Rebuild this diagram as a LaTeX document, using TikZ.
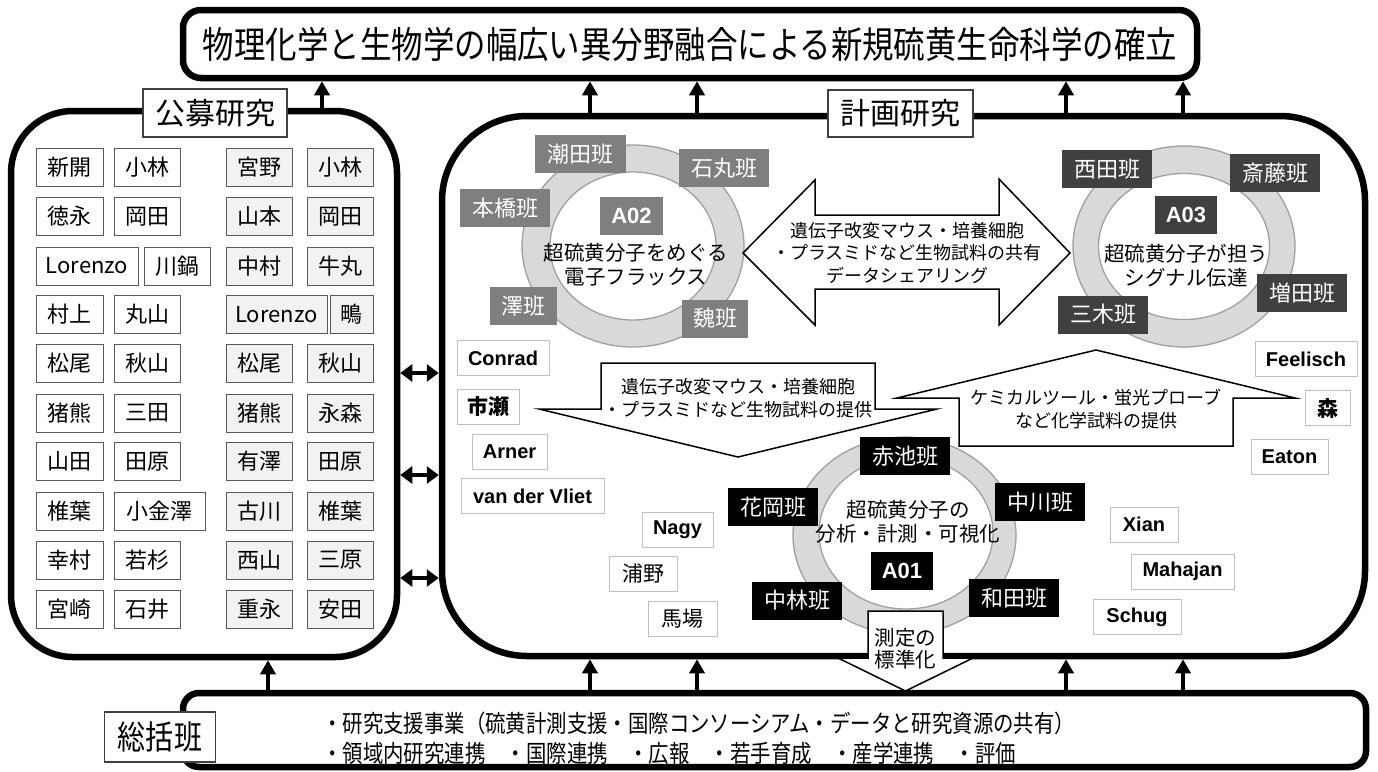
\documentclass[tikz,border=0pt]{standalone}
\usepackage{fontspec}
\setmainfont{Noto Sans CJK JP}
\newfontfamily\cond{Noto Sans CJK JP}[FakeStretch=0.85]
\newfontfamily\arialfont{Liberation Sans}
\usetikzlibrary{arrows.meta}
\definecolor{gA02}{HTML}{7F7F7F}
\definecolor{gA03}{HTML}{404040}
\definecolor{gA01}{HTML}{000000}
\definecolor{ringfill}{HTML}{D9D9D9}
\definecolor{ringline}{HTML}{A0A0A0}
\definecolor{cellgray}{HTML}{F2F2F2}
\tikzset{
  panel/.style={draw, line width=6.5pt, fill=white, inner sep=0pt},
  lbl/.style={draw=black!75, line width=1.2pt, fill=white, inner sep=0pt, font=\fontsize{30}{36}\selectfont},
  nm/.style={draw=black!65, line width=1pt, fill=white, minimum height=38pt, inner sep=0pt, font=\fontsize{22}{26}\selectfont},
  nmg/.style={nm, fill=cellgray},
  ext/.style={draw=black!25, line width=1pt, fill=white, minimum height=35pt, inner sep=0pt, font=\arialfont\bfseries\fontsize{20}{24}\selectfont},
  extj/.style={ext, font=\fontsize{21}{24}\selectfont},
  extjb/.style={ext, font=\bfseries\fontsize{21}{24}\selectfont},
  grp/.style={fill=#1, text=white, minimum width=90pt, minimum height=38pt, inner sep=0pt, font=\fontsize{22}{26}\selectfont},
  glabel/.style={grp=#1, font=\arialfont\bfseries\fontsize{22}{26}\selectfont, minimum width=62pt},
  uarr/.style={line width=4pt, -{Triangle[width=15pt,length=14pt]}},
  darr/.style={line width=4pt, {Triangle[width=17pt,length=12pt]}-{Triangle[width=17pt,length=12pt]}},
  blockarrow/.style={draw, fill=white, line width=1.5pt, line join=miter},
  atext/.style={align=center, inner sep=0pt, font=\fontsize{18}{22.5}\selectfont},
  rtext/.style={align=center, inner sep=0pt, font=\fontsize{20.5}{24}\selectfont},
  ring/.style={fill=ringfill, draw=ringline, line width=1.3pt},
  hole/.style={fill=white, draw=ringline, line width=1.3pt},
  summ/.style={anchor=west, inner sep=0pt, font=\cond\fontsize{24}{27}\selectfont}
}
\begin{document}
\begin{tikzpicture}[x=1pt, y=-1pt]
\useasboundingbox (0,0) rectangle (1378,771);

% main frames
\node[panel, rounded corners=18pt, minimum width=1014pt, minimum height=68pt,
      font=\cond\fontsize{37}{42}\selectfont] (title) at (690,44)
      {物理化学と生物学の幅広い異分野融合による新規硫黄生命科学の確立};
\node[panel, rounded corners=62pt, minimum width=386pt, minimum height=546pt] (koubo) at (204,384) {};
\node[panel, rounded corners=85pt, minimum width=923pt, minimum height=540pt] (keikaku) at (903.5,386) {};
\node[panel, rounded corners=16pt, minimum width=1183pt, minimum height=74pt] (sokatsu) at (774.5,730) {};

% arrow positions
\coordinate (t1) at (322,0);
\coordinate (t2) at (590,0);
\coordinate (t3) at (697,0);
\coordinate (t4) at (1066,0);
\coordinate (t5) at (1183,0);
\coordinate (b1) at (268,0);
\coordinate (d1) at (0,373);
\coordinate (d2) at (0,475);
\coordinate (d3) at (0,578);

\draw[uarr] (koubo.north -| t1) -- (title.south -| t1);
\foreach \c in {t2,t3,t4,t5}{
  \draw[uarr] (keikaku.north -| \c) -- (title.south -| \c);
  \draw[uarr] (sokatsu.north -| \c) -- (keikaku.south -| \c);
}
\draw[uarr] (sokatsu.north -| b1) -- (koubo.south -| b1);
\foreach \c in {d1,d2,d3}{
  \draw[darr] (koubo.east |- \c) -- (keikaku.west |- \c);
}

% labels
\node[lbl, minimum width=144pt, minimum height=48pt] (kouboL) at (215,113) {公募研究};
\node[lbl, minimum width=145pt, minimum height=47pt] (keikakuL) at (900.5,113.5) {計画研究};
\node[lbl, font=\cond\fontsize{33}{38}\selectfont, minimum width=111pt, minimum height=50pt] (sokatsuL) at (160,737) {総括班};

% summary text
\node[summ] (s1) at (322,723)
  {・研究支援事業（硫黄計測支援・国際コンソーシアム・データと研究資源の共有）};
\node[summ] (s2) at (322,753)
  {・領域内研究連携　・国際連携　・広報　・若手育成　・産学連携　・評価};

% public-call names
\node[nm, minimum width=67pt] (n1a) at (69.5,167.5) {新開};
\node[nm, minimum width=66pt] (n1b) at (147,167.5) {小林};
\node[nmg, minimum width=66pt] (n1c) at (259,167.5) {宮野};
\node[nmg, minimum width=66pt] (n1d) at (340,167.5) {小林};
\node[nm, minimum width=67pt] (n2a) at (69.5,216.5) {徳永};
\node[nm, minimum width=66pt] (n2b) at (147,216.5) {岡田};
\node[nmg, minimum width=66pt] (n2c) at (259,216.5) {山本};
\node[nmg, minimum width=66pt] (n2d) at (340,216.5) {岡田};
\node[nm, minimum width=102pt] (n3a) at (87,266) {Lorenzo};
\node[nm, minimum width=66pt] (n3b) at (177,266) {川鍋};
\node[nmg, minimum width=66pt] (n3c) at (259,266) {中村};
\node[nmg, minimum width=66pt] (n3d) at (340,266) {牛丸};
\node[nm, minimum width=67pt] (n4a) at (69.5,314.5) {村上};
\node[nm, minimum width=66pt] (n4b) at (147,314.5) {丸山};
\node[nmg, minimum width=101pt] (n4c) at (276.5,314.5) {Lorenzo};
\node[nmg, minimum width=43pt] (n4d) at (351.5,314.5) {鴫};
\node[nm, minimum width=67pt] (n5a) at (69.5,363.5) {松尾};
\node[nm, minimum width=66pt] (n5b) at (147,363.5) {秋山};
\node[nmg, minimum width=66pt] (n5c) at (259,363.5) {松尾};
\node[nmg, minimum width=66pt] (n5d) at (340,363.5) {秋山};
\node[nm, minimum width=67pt] (n6a) at (69.5,413) {猪熊};
\node[nm, minimum width=66pt] (n6b) at (147,413) {三田};
\node[nmg, minimum width=66pt] (n6c) at (259,413) {猪熊};
\node[nmg, minimum width=66pt] (n6d) at (340,413) {永森};
\node[nm, minimum width=67pt] (n7a) at (69.5,461.5) {山田};
\node[nm, minimum width=66pt] (n7b) at (147,461.5) {田原};
\node[nmg, minimum width=66pt] (n7c) at (259,461.5) {有澤};
\node[nmg, minimum width=66pt] (n7d) at (340,461.5) {田原};
\node[nm, minimum width=67pt] (n8a) at (69.5,511) {椎葉};
\node[nm, minimum width=91pt] (n8b) at (159.5,511) {小金澤};
\node[nmg, minimum width=66pt] (n8c) at (259,511) {古川};
\node[nmg, minimum width=66pt] (n8d) at (340,511) {椎葉};
\node[nm, minimum width=67pt] (n9a) at (69.5,560) {幸村};
\node[nm, minimum width=66pt] (n9b) at (147,560) {若杉};
\node[nmg, minimum width=66pt] (n9c) at (259,560) {西山};
\node[nmg, minimum width=66pt] (n9d) at (340,560) {三原};
\node[nm, minimum width=67pt] (n10a) at (69.5,609) {宮崎};
\node[nm, minimum width=66pt] (n10b) at (147,609) {石井};
\node[nmg, minimum width=66pt] (n10c) at (259,609) {重永};
\node[nmg, minimum width=66pt] (n10d) at (340,609) {安田};

% rings
\path[ring] (633,246) ellipse [x radius=111pt, y radius=101pt];
\path[hole] (633,246) ellipse [x radius=83pt, y radius=74pt];
\path[ring] (1184,246.5) ellipse [x radius=111pt, y radius=100.5pt];
\path[hole] (1184,246.5) ellipse [x radius=85.5pt, y radius=73pt];
\path[ring] (904.5,535.5) ellipse [x radius=111.5pt, y radius=98.5pt];
\path[hole] (906,533) ellipse [x radius=87pt, y radius=76pt];

\node[rtext] (a02t) at (636,265) {超硫黄分子をめぐる\\電子フラックス};
\node[rtext] (a03t) at (1186,265.5) {超硫黄分子が担う\\シグナル伝達};
\node[rtext] (a01t) at (908,522) {超硫黄分子の\\分析・計測・可視化};

% A02 groups
\node[glabel=gA02, minimum width=63pt] (a02) at (631.5,216) {A02};
\node[grp=gA02, minimum width=91pt] (ushioda) at (580.5,154) {潮田班};
\node[grp=gA02] (ishimaru) at (724,168) {石丸班};
\node[grp=gA02] (motohashi) at (505,208) {本橋班};
\node[grp=gA02, minimum width=67pt] (sawa) at (523.5,306) {澤班};
\node[grp=gA02, minimum width=66pt] (gi) at (715,318.5) {魏班};

% A03 groups
\node[glabel=gA03] (a03) at (1186,214.5) {A03};
\node[grp=gA03] (nishida) at (1107,169) {西田班};
\node[grp=gA03] (saito) at (1275,173) {斎藤班};
\node[grp=gA03] (masuda) at (1302,293) {増田班};
\node[grp=gA03] (miki) at (1103,314.5) {三木班};

% A01 groups
\node[glabel=gA01] (a01) at (902,570.5) {A01};
\node[grp=gA01] (akaike) at (905,456) {赤池班};
\node[grp=gA01] (hanaoka) at (773,507) {花岡班};
\node[grp=gA01] (nakagawa) at (1040,502) {中川班};
\node[grp=gA01] (nakabayashi) at (797,600.5) {中林班};
\node[grp=gA01] (wada) at (1014,598) {和田班};

% block arrows
\draw[blockarrow] (743,253) -- (815,180) -- (815,215) -- (999,215) -- (999,179) -- (1070,253)
  -- (999,325) -- (999,289) -- (815,289) -- (815,325) -- cycle;
\node[atext] (share) at (907,253) {遺伝子改変マウス・培養細胞\\・プラスミドなど生物試料の共有\\データシェアリング};

\draw[blockarrow] (601,363) -- (875,363) -- (875,409) -- (937,409) -- (738,457) -- (539,409) -- (601,409) -- cycle;
\node[atext] (provbio) at (738,398) {遺伝子改変マウス・培養細胞\\・プラスミドなど生物試料の提供};

\draw[blockarrow] (959,446) -- (1233,446) -- (1233,398) -- (1295,398) -- (1096,350) -- (897,398) -- (959,398) -- cycle;
\node[atext] (provchem) at (1096,409) {ケミカルツール・蛍光プローブ\\など化学試料の提供};

\draw[blockarrow] (868,611) -- (943,611) -- (943,658) -- (973,658) -- (905.5,691) -- (838,658) -- (868,658) -- cycle;
\node[atext, font=\fontsize{20.5}{22}\selectfont] (std) at (905.5,649) {測定の\\標準化};

% external collaborators
\node[ext, minimum width=92pt] (conrad) at (503,358) {Conrad};
\node[extjb, minimum width=62pt] (ichise) at (488,406.5) {市瀬};
\node[ext, minimum width=75pt] (arner) at (509.5,452) {Arner};
\node[ext, minimum width=143pt] (vliet) at (532.5,496) {van der Vliet};
\node[ext, minimum width=71pt] (nagy) at (677.5,529.5) {Nagy};
\node[extj, minimum width=68pt] (urano) at (643,573.5) {浦野};
\node[extj, minimum width=69pt] (baba) at (682.5,619) {馬場};
\node[ext, minimum width=102pt] (feelisch) at (1306,359) {Feelisch};
\node[extjb, minimum width=45pt] (mori) at (1327.5,408) {森};
\node[ext, minimum width=77pt] (eaton) at (1289.5,456.5) {Eaton};
\node[ext, minimum width=68pt] (xian) at (1144,524.5) {Xian};
\node[ext, minimum width=103pt] (mahajan) at (1182.5,571.5) {Mahajan};
\node[ext, minimum width=88pt] (schug) at (1137,617) {Schug};
\end{tikzpicture}
\end{document}
